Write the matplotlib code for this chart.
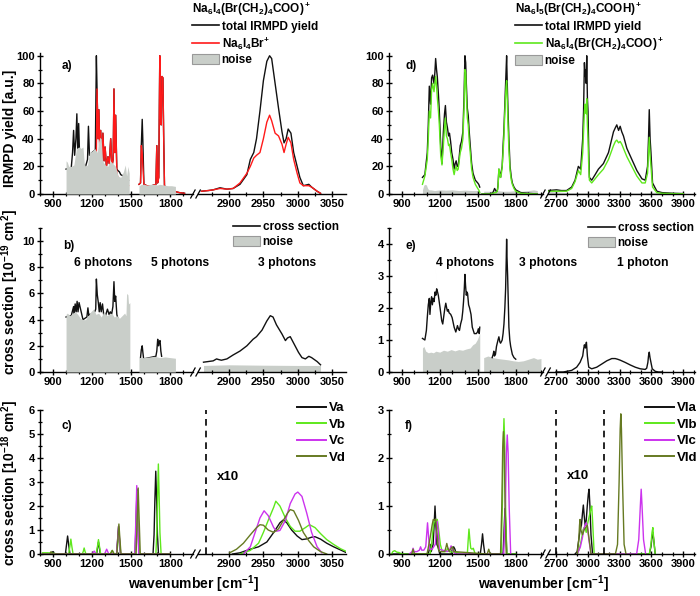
import matplotlib
matplotlib.use('Agg')
import matplotlib.pyplot as plt
from matplotlib.lines import Line2D
from matplotlib.patches import Patch
from matplotlib.ticker import MultipleLocator

W, H = 700, 596

# ---------------- panel a : Na6I4(Br(CH2)4COO)+ ----------------
a_noise1_x = [1000, 1010, 1020, 1040, 1060, 1080, 1100, 1115, 1130, 1140, 1150, 1165, 1180, 1200, 1220, 1240,
              1250, 1260, 1270, 1280, 1300, 1320, 1340, 1360, 1380, 1400, 1420, 1440, 1455, 1465, 1475, 1485]
a_noise1_y = [24, 23, 20, 20, 21, 33, 34, 33, 34, 22, 20, 21, 30, 31, 33, 30,
              38, 41, 40, 24, 21, 20, 24, 22, 20, 13, 12, 16, 21, 13, 20, 15]
a_noise2_x = [1560, 1580, 1600, 1620, 1650, 1680, 1700, 1720, 1750, 1780, 1810, 1840]
a_noise2_y = [6, 7, 7, 6.5, 7, 7, 6.5, 7, 6.5, 6, 6, 5.5]

a_tot1_x = [1000, 1040, 1050, 1058, 1066, 1076, 1083, 1090, 1097, 1104, 1120, 1150, 1165, 1172, 1180, 1200,
            1225, 1233, 1238, 1246, 1252, 1260, 1266, 1275, 1283, 1292, 1300, 1310, 1322, 1332, 1343, 1352,
            1362, 1368, 1374, 1381, 1390, 1398, 1410, 1420, 1440, 1460, 1480]
a_tot1_y = [18, 19, 30, 46, 28, 40, 58, 30, 51, 28, 22, 20, 25, 49, 28, 30,
            32, 100, 76, 40, 61, 28, 46, 22, 44, 24, 34, 20, 27, 22, 40, 20,
            25, 76, 30, 57, 18, 17, 16, 14, 13, 12, 10]
a_br1_x = [1225, 1233, 1238, 1246, 1252, 1260, 1266, 1275, 1283, 1292, 1300, 1310, 1322, 1332, 1343, 1352,
           1362, 1368, 1374, 1381, 1390, 1398, 1410, 1440, 1480]
a_br1_y = [18, 30, 76, 40, 61, 28, 46, 22, 44, 24, 34, 20, 27, 22, 40, 20,
           25, 76, 30, 57, 15, 12, 10, 8, 6]
a_2_x = [1560, 1572, 1578, 1585, 1590, 1598, 1620, 1660, 1690, 1697, 1703, 1712, 1720, 1726, 1731, 1737,
         1744, 1750, 1756, 1780, 1830, 1870, 1910]
a_tot2_y = [7, 8, 35, 54, 38, 7, 6, 6, 7, 35, 8, 12, 100, 55, 50, 85, 84, 40, 6, 3, 2, 1, 0.5]
a_br2_y = [7, 8, 35, 30, 20, 7, 6, 6, 7, 35, 8, 12, 100, 55, 50, 85, 84, 40, 6, 3, 2, 1, 0.5]

a_r_x = [2860, 2870, 2877, 2887, 2897, 2906, 2916, 2926, 2931, 2936, 2940, 2945, 2950, 2955, 2959, 2962,
         2967, 2972, 2977, 2980, 2983, 2986, 2990, 2994, 2999, 3003, 3008, 3016, 3020, 3028, 3033]
a_tot_r = [2, 2.5, 3, 4.5, 3.5, 4, 7, 14, 25, 30, 40, 60, 82, 96, 100, 98,
           80, 62, 45, 37, 40, 47, 44, 30, 20, 12, 6, 7, 5, 2, 0.5]
a_br_r = [2, 2.5, 3, 4, 3.5, 4, 8, 15, 20, 26, 28, 30, 40, 52, 57, 53,
          44, 42, 36, 30, 36, 41, 37, 25, 15, 8, 6, 6, 5, 2, 0.5]

# ---------------- panel b : cross section ----------------
b_noise1_x = [1000, 1010, 1030, 1050, 1070, 1090, 1110, 1130, 1150, 1170, 1190, 1210, 1230, 1250, 1270,
              1290, 1310, 1330, 1350, 1370, 1390, 1410, 1430, 1450, 1460, 1465, 1475, 1480, 1490]
b_noise1_y = [4.4, 4.5, 4.3, 4.5, 4.6, 4.4, 4.1, 4.0, 4.0, 4.3, 4.6, 4.8, 4.4, 4.5, 4.2,
              4.6, 4.3, 4.4, 4.5, 4.2, 4.3, 4.1, 4.3, 4.5, 4.3, 6.0, 5.9, 5.2, 5.3]
b_sec1_x = [1000, 1040, 1058, 1063, 1070, 1078, 1085, 1092, 1100, 1130, 1160, 1168, 1175, 1180, 1200, 1220,
            1228, 1233, 1240, 1248, 1255, 1262, 1270, 1280, 1290, 1300, 1318, 1330, 1340, 1350, 1360,
            1368, 1374, 1381, 1390, 1400, 1420, 1440, 1460, 1480]
b_sec1_y = [4.2, 4.3, 5.0, 4.4, 5.2, 4.6, 5.4, 4.6, 5.3, 4.0, 4.2, 4.9, 4.3, 4.4, 4.4, 4.6,
            4.8, 7.1, 5.9, 5.3, 4.6, 5.3, 4.6, 5.2, 4.3, 4.2, 4.8, 4.4, 4.6, 4.4, 5.0,
            6.9, 5.4, 5.8, 4.4, 4.0, 3.8, 3.8, 3.7, 3.6]
b_noise2_x = [1560, 1600, 1640, 1680, 1720, 1760, 1800, 1840]
b_noise2_y = [1.1, 1.1, 1.15, 1.2, 1.1, 1.15, 1.1, 1.05]
b_sec2_x = [1572, 1578, 1585, 1590, 1596, 1690, 1697, 1704, 1710, 1716, 1722, 1728, 1734]
b_sec2_y = [1.1, 1.7, 2.0, 1.5, 1.0, 1.2, 1.6, 2.5, 2.0, 2.3, 2.4, 1.6, 1.2]
b_r_x = [2863, 2870, 2877, 2882, 2885, 2889, 2897, 2906, 2916, 2926, 2935, 2940, 2948, 2955, 2960,
         2964, 2969, 2977, 2982, 2985, 2989, 2994, 3001, 3006, 3011, 3016, 3020, 3028, 3033]
b_sec_r = [0.75, 0.8, 0.85, 1.0, 0.95, 0.9, 1.0, 1.3, 1.6, 2.0, 2.5, 2.7, 3.2, 3.9, 4.3,
           4.2, 3.6, 2.9, 2.4, 2.6, 2.7, 2.2, 1.5, 1.1, 1.0, 1.2, 1.1, 0.8, 0.55]
b_noise_r_x = [2863, 2900, 2950, 3000, 3033]
b_noise_r_y = [0.5, 0.55, 0.52, 0.5, 0.5]

# ---------------- panel c : computed spectra V ----------------
Va_l_x = [820, 880, 890, 900, 910, 995, 1004, 1012, 1020, 1030, 1235, 1243, 1249, 1255, 1263, 1388, 1396,
          1403, 1410, 1418, 1530, 1538, 1545, 1552, 1560, 1668, 1676, 1682, 1689, 1696, 1702, 1710, 1800]
Va_l_y = [0, 0, 0.05, 0.1, 0, 0, 0.4, 0.75, 0.4, 0, 0, 0.3, 0.5, 0.3, 0, 0, 0.6,
          1.15, 0.6, 0, 0, 1.4, 2.7, 1.4, 0, 0, 0.8, 2.2, 3.45, 2.2, 0.8, 0, 0]
Vb_l_x = [820, 860, 900, 940, 1020, 1029, 1037, 1045, 1054, 1125, 1133, 1139, 1145, 1153, 1232, 1241, 1249,
          1257, 1266, 1340, 1348, 1355, 1362, 1370, 1390, 1398, 1405, 1412, 1420, 1533, 1541, 1548, 1555,
          1563, 1690, 1697, 1703, 1709, 1715, 1721, 1730, 1800]
Vb_l_y = [0.05, 0.05, 0.03, 0, 0, 0.3, 0.62, 0.3, 0, 0, 0.12, 0.25, 0.12, 0, 0, 0.3, 0.6,
          0.3, 0, 0, 0.08, 0.15, 0.08, 0, 0, 0.5, 1.0, 0.5, 0, 0, 1.3, 2.6, 1.3,
          0, 0, 0.9, 2.4, 3.75, 2.4, 0.9, 0, 0]
Vc_l_x = [820, 1200, 1208, 1216, 1224, 1232, 1296, 1304, 1312, 1320, 1328, 1388, 1396, 1404, 1412, 1420,
          1528, 1536, 1543, 1550, 1558, 1800]
Vc_l_y = [0, 0, 0.06, 0.12, 0.06, 0, 0, 0.1, 0.2, 0.1, 0, 0, 0.55, 1.15, 0.55, 0,
          0, 1.4, 2.85, 1.4, 0, 0]
Vd_l_x = [820, 875, 885, 895, 1340, 1355, 1368, 1390, 1398, 1406, 1414, 1422, 1538, 1546, 1554, 1562, 1570,
          1800]
Vd_l_y = [0, 0, 0.1, 0, 0, 0.15, 0, 0, 0.6, 1.25, 0.6, 0, 0, 1.35, 2.75, 1.35, 0, 0]

Va_r_x = [2905, 2916, 2931, 2943, 2955, 2965, 2974, 2979, 2984, 2991, 2999, 3006, 3013, 3020, 3025, 3033,
          3042, 3052, 3062, 3071]
Va_r_y = [0, 0.05, 0.2, 0.3, 0.5, 0.9, 1.3, 1.42, 1.3, 1.0, 0.75, 0.6, 0.63, 0.7, 0.72, 0.62,
          0.45, 0.3, 0.17, 0.05]
Vb_r_x = [2916, 2931, 2943, 2950, 2957, 2965, 2968, 2974, 2982, 2989, 2996, 3003, 3011, 3017, 3025, 3033,
          3042, 3052, 3062, 3071]
Vb_r_y = [0, 0.15, 0.45, 0.9, 1.4, 1.95, 2.2, 2.0, 1.5, 1.15, 0.95, 0.95, 1.1, 1.22, 1.1, 0.85,
          0.6, 0.4, 0.22, 0.1]
Vc_r_x = [2921, 2931, 2938, 2945, 2951, 2957, 2965, 2969, 2974, 2982, 2989, 2996, 3000, 3006, 3013, 3020,
          3028, 3035]
Vc_r_y = [0, 0.3, 0.9, 1.5, 1.8, 1.6, 1.1, 0.95, 0.98, 1.4, 2.1, 2.5, 2.58, 2.4, 1.7, 0.9, 0.3, 0.05]
Vd_r_x = [2901, 2911, 2921, 2931, 2940, 2945, 2950, 2957, 2965, 2972, 2979, 2985, 2989, 2994, 3001, 3008,
          3016, 3023, 3033, 3042]
Vd_r_y = [0.05, 0.2, 0.45, 0.8, 1.1, 1.22, 1.2, 1.0, 0.9, 1.05, 1.4, 1.7, 1.85, 1.8, 1.4, 0.9,
          0.55, 0.3, 0.1, 0]
c_scale_mark = 2866

# ---------------- panel d : Na6I5(Br(CH2)4COOH)+ ----------------
d_1_x = [1064, 1083, 1102, 1110, 1118, 1128, 1136, 1144, 1155, 1162, 1168, 1175, 1181, 1190, 1197, 1208,
         1218, 1229, 1238, 1245, 1253, 1261, 1270, 1277, 1286, 1295, 1305, 1314, 1322, 1330, 1338, 1346,
         1355, 1362, 1372, 1383, 1392, 1399, 1405, 1410, 1418, 1425, 1433, 1441, 1452, 1463, 1481, 1500,
         1508, 1516]
d_tot1_y = [12, 14, 30, 50, 78, 65, 84, 86, 80, 88, 98, 90, 85, 72, 60, 35,
            22, 45, 58, 64, 52, 48, 42, 44, 38, 30, 25, 18, 22, 24, 20, 20,
            28, 35, 38, 45, 70, 100, 95, 80, 62, 57, 45, 35, 22, 15, 10, 8,
            7, 5]
d_frag1_y = [7, 13, 25, 40, 60, 55, 75, 80, 74, 80, 85, 78, 70, 60, 50, 28,
             21, 35, 48, 55, 42, 40, 35, 36, 30, 25, 18, 14, 18, 20, 17, 18,
             25, 30, 33, 40, 62, 90, 88, 72, 55, 50, 38, 30, 18, 12, 7, 4,
             3, 1]
d_2_x = [1534, 1600, 1620, 1633, 1645, 1654, 1660, 1667, 1674, 1680, 1687, 1693, 1700, 1706, 1712, 1718,
         1724, 1728, 1733, 1739, 1746, 1755, 1765, 1773, 1786, 1800, 1839, 1900, 1970]
d_tot2_y = [0, 0, 1, 4, 2, 2, 6, 18, 15, 12, 17, 20, 35, 45, 60, 75,
            90, 100, 80, 60, 40, 20, 12, 8, 5, 3, 1, 0.5, 0]
d_frag2_y = [0, 0, 0.5, 1, 1, 2, 5, 18, 14, 12, 15, 20, 30, 40, 55, 68,
             78, 82, 70, 50, 32, 17, 10, 7, 4, 2, 0.5, 0.2, 0]
d_noise1_x = [1064, 1075, 1085, 1095, 1105, 1115, 1130, 1160, 1200, 1250, 1300, 1350, 1400, 1450, 1500, 1516]
d_noise1_y = [3, 6.5, 7, 6.5, 4, 3, 3, 2.5, 3, 2.8, 3, 2.5, 2.8, 2.5, 2.5, 2.5]
d_noise2_x = [1547, 1600, 1650, 1700, 1750, 1800, 1850, 1900, 1940, 1970]
d_noise2_y = [2, 2, 2.5, 2, 2, 2.5, 2, 2.5, 3, 2.5]
d_r_x = [2628, 2706, 2750, 2800, 2848, 2880, 2911, 2933, 2952, 2960, 2968, 2975, 2980, 2985, 2990, 2996,
         3002, 3008, 3015, 3037, 3069, 3100, 3147, 3195, 3242, 3260, 3273, 3290, 3305, 3320, 3336, 3368,
         3415, 3462, 3510, 3541, 3563, 3572, 3579, 3587, 3595, 3610, 3651, 3699, 3800, 3900]
d_tot_r = [2.5, 3, 2.5, 2.5, 5, 10, 20, 18, 40, 60, 95, 85, 90, 80, 100, 70,
           60, 35, 12, 10, 14, 18, 22, 30, 45, 48, 50, 46, 49, 45, 42, 33,
           25, 17, 11, 10, 20, 40, 61, 40, 30, 8, 2, 1, 0.5, 0.3]
d_frag_r = [2, 2, 2, 2, 4, 9, 17, 14, 30, 45, 60, 65, 62, 58, 69, 50,
            40, 22, 10, 8, 11, 14, 18, 25, 35, 38, 39, 37, 38, 36, 33, 27,
            20, 13, 8, 8, 15, 30, 41, 28, 20, 5, 1, 0.5, 0.3, 0.2]
d_noise_r_x = [2628, 2700, 2800, 2900, 3000, 3100, 3300, 3500, 3700, 3900]
d_noise_r_y = [2, 1.5, 1, 1, 1, 1, 0.8, 0.8, 1.5, 1]

# ---------------- panel e : cross section ----------------
e_noise1_x = [1064, 1075, 1090, 1110, 1130, 1150, 1170, 1200, 1230, 1260, 1290, 1320, 1350, 1380, 1410,
              1440, 1460, 1480, 1495, 1505, 1516]
e_noise1_y = [0.75, 0.8, 0.65, 0.6, 0.62, 0.6, 0.65, 0.62, 0.68, 0.65, 0.7, 0.66, 0.7, 0.68, 0.72,
              0.75, 0.85, 0.9, 1.0, 1.1, 1.2]
e_noise2_x = [1547, 1580, 1620, 1660, 1700, 1740, 1780, 1820, 1860, 1900, 1940, 1970, 1999]
e_noise2_y = [0.45, 0.5, 0.45, 0.42, 0.4, 0.38, 0.35, 0.33, 0.35, 0.4, 0.45, 0.4, 0.42]
e_sec1_x = [1064, 1083, 1095, 1102, 1110, 1118, 1123, 1130, 1136, 1142, 1149, 1156, 1163, 1170, 1176,
            1183, 1189, 1196, 1203, 1216, 1224, 1234, 1241, 1248, 1255, 1261, 1268, 1274, 1287, 1298,
            1306, 1314, 1327, 1334, 1340, 1348, 1356, 1365, 1375, 1382, 1388, 1394, 1399, 1404, 1410,
            1415, 1420, 1428, 1436, 1447, 1457, 1473, 1489, 1498, 1505, 1512, 1516]
e_sec1_y = [1.05, 1.0, 1.3, 1.7, 2.1, 2.3, 1.8, 2.2, 2.35, 2.1, 2.3, 2.2, 2.5, 2.4, 2.6,
            2.5, 2.4, 2.2, 2.0, 1.6, 1.5, 1.8, 2.0, 2.15, 2.0, 1.9, 1.95, 1.85, 1.8, 1.7,
            1.55, 1.4, 1.25, 1.35, 1.45, 1.35, 1.3, 1.5, 1.65, 1.9, 2.2, 2.6, 3.05, 2.7, 2.4,
            2.5, 2.45, 2.1, 2.0, 1.8, 1.4, 1.2, 1.2, 1.25, 1.35, 1.2, 1.4]
e_sec2_x = [1614, 1622, 1627, 1632, 1640, 1648, 1654, 1660, 1667, 1674, 1680, 1687, 1693, 1700, 1707,
            1714, 1720, 1725, 1728, 1731, 1736, 1741, 1746, 1753, 1760, 1773, 1786, 1800]
e_sec2_y = [0.45, 0.55, 0.65, 0.5, 0.55, 0.8, 0.9, 1.0, 1.1, 0.95, 0.9, 0.95, 1.0, 1.2, 1.5,
            2.0, 2.6, 3.5, 4.15, 3.6, 3.0, 2.2, 1.4, 1.0, 0.8, 0.55, 0.45, 0.4]
e_r_x = [2700, 2769, 2848, 2895, 2927, 2952, 2960, 2968, 2972, 2977, 2982, 2987, 2992, 2996, 3003, 3009,
         3037, 3084, 3132, 3179, 3226, 3258, 3280, 3305, 3352, 3400, 3447, 3494, 3541, 3555, 3566, 3572,
         3579, 3586, 3592, 3607, 3636, 3667, 3700]
e_sec_r = [0, 0, 0.05, 0.15, 0.3, 0.5, 0.7, 0.85, 0.8, 0.75, 0.85, 0.93, 0.7, 0.5, 0.3, 0.15,
           0.1, 0.15, 0.25, 0.35, 0.42, 0.42, 0.4, 0.37, 0.3, 0.22, 0.15, 0.1, 0.08, 0.12, 0.3, 0.5,
           0.62, 0.45, 0.35, 0.1, 0.02, 0, 0]

# ---------------- panel f : computed spectra VI ----------------
VIa_l_x = [820, 1110, 1118, 1125, 1133, 1148, 1156, 1163, 1170, 1178, 1190, 1200, 1290, 1300, 1310, 1320,
           1330, 1520, 1530, 1538, 1546, 1556, 1700, 1708, 1715, 1722, 1730, 1800]
VIa_l_y = [0, 0, 0.1, 0.2, 0.05, 0.2, 0.6, 1.0, 0.6, 0.2, 0.12, 0, 0, 0.1, 0.15, 0.1,
           0, 0, 0.2, 0.42, 0.2, 0, 0, 0.5, 0.95, 0.5, 0, 0]
VIb_l_x = [820, 830, 845, 860, 880, 900, 1125, 1140, 1150, 1160, 1172, 1181, 1190, 1205, 1220, 1250, 1262,
           1275, 1418, 1425, 1431, 1438, 1445, 1455, 1465, 1480, 1685, 1695, 1701, 1707, 1713, 1719, 1729,
           1800]
VIb_l_y = [0, 0.05, 0.07, 0.04, 0.03, 0, 0, 0.3, 0.6, 0.7, 0.68, 0.72, 0.55, 0.2, 0.05, 0.05, 0.12,
           0.05, 0, 0.3, 0.52, 0.3, 0.12, 0.1, 0.12, 0, 0, 1.1, 2.3, 2.82, 2.3, 1.1, 0,
           0]
VIc_l_x = [960, 982, 990, 998, 1020, 1040, 1049, 1058, 1075, 1090, 1097, 1104, 1111, 1120, 1140, 1165, 1174,
           1181, 1188, 1197, 1260, 1280, 1290, 1300, 1320, 1705, 1718, 1726, 1733, 1740, 1748, 1760]
VIc_l_y = [0, 0.05, 0.12, 0.05, 0.05, 0.08, 0.15, 0.08, 0.08, 0.15, 0.4, 0.65, 0.4, 0.1, 0.1, 0.2, 0.5,
           0.68, 0.5, 0.1, 0.05, 0.1, 0.17, 0.1, 0, 0, 1.0, 2.1, 2.48, 2.1, 1.0, 0]
VId_l_x = [980, 990, 1000, 1100, 1115, 1125, 1140, 1149, 1158, 1168, 1180, 1190, 1200, 1240, 1250, 1256,
           1262, 1275, 1290, 1300, 1312, 1575, 1587, 1598, 1680, 1690, 1697, 1703, 1709, 1716, 1725]
VId_l_y = [0, 0.1, 0, 0, 0.2, 0.35, 0.6, 0.72, 0.7, 0.73, 0.4, 0.1, 0.05, 0.05, 0.15, 0.22,
           0.15, 0.05, 0.12, 0.15, 0.05, 0, 0.1, 0, 0, 1.0, 2.2, 2.55, 2.2, 1.0, 0]

VIa_r_x = [2880, 2900, 2915, 2927, 2940, 2950, 2958, 2966, 2975, 2985, 2995, 3005, 3012, 3020, 3030, 3045,
           3580, 3595, 3605, 3613, 3621, 3635]
VIa_r_y = [0, 0.05, 0.3, 0.5, 0.6, 0.85, 1.02, 0.8, 0.6, 0.7, 1.0, 1.25, 1.35, 1.0, 0.4, 0,
           0, 0.15, 0.35, 0.45, 0.3, 0]
VIb_r_x = [2900, 2920, 2940, 2955, 2965, 2974, 2985, 2995, 3005, 3020, 3030, 3037, 3045, 3060,
           3580, 3595, 3605, 3613, 3621, 3635]
VIb_r_y = [0, 0.1, 0.3, 0.5, 0.55, 0.55, 0.45, 0.6, 0.7, 0.85, 0.95, 1.0, 0.7, 0,
           0, 0.2, 0.45, 0.55, 0.3, 0]
VIc_r_x = [2900, 2930, 2950, 2960, 2974, 2985, 2995, 3010, 3030, 3460, 3480, 3495, 3503, 3511, 3525, 3545]
VIc_r_y = [0, 0.15, 0.35, 0.5, 0.6, 0.65, 0.6, 0.3, 0, 0, 0.3, 1.0, 1.35, 1.0, 0.3, 0]
VId_r_x = [2900, 2915, 2922, 2927, 2935, 2950, 2965, 2980, 2995, 3010, 3030, 3260, 3280, 3295, 3305, 3311,
           3317, 3327, 3342, 3360]
VId_r_y = [0, 0.3, 0.6, 0.72, 0.5, 0.4, 0.5, 0.55, 0.6, 0.35, 0, 0, 0.2, 1.5, 2.6, 2.92,
           2.6, 1.5, 0.2, 0]
f_scale_marks = [2697, 3157]

# ---------------- style ----------------
BLACK = '#111111'
RED = '#ff1a1a'
GREEN = '#5ee81c'
MAGENTA = '#cc33ee'
OLIVE = '#667a22'
NOISE = '#c9cec9'
LW = 1.0

plt.rcParams.update({
    'font.family': 'Liberation Sans',
    'font.weight': 'bold',
    'axes.labelweight': 'bold',
    'mathtext.fontset': 'custom',
    'mathtext.rm': 'Liberation Sans:bold',
    'mathtext.it': 'Liberation Sans:bold',
    'mathtext.bf': 'Liberation Sans:bold',
    'mathtext.default': 'rm',
    'axes.linewidth': 1.0,
    'xtick.direction': 'inout',
    'ytick.direction': 'inout',
    'xtick.major.size': 4.5,
    'ytick.major.size': 4.5,
    'xtick.minor.size': 2.6,
    'ytick.minor.size': 2.6,
    'xtick.major.width': 1.0,
    'ytick.major.width': 1.0,
    'xtick.minor.width': 0.9,
    'ytick.minor.width': 0.9,
    'xtick.labelsize': 8,
    'ytick.labelsize': 8,
    'xtick.major.pad': 1.5,
    'ytick.major.pad': 1.5,
})

fig = plt.figure(figsize=(W / 100, H / 100), dpi=100)


def box(x0, x1, y0, y1):
    return [x0 / W, 1 - y1 / H, (x1 - x0) / W, (y1 - y0) / H]


def broken_axes(cols, xlims, rmaj, rmin, row, ylim, ymaj, ymin):
    (l0, l1), (r0, r1) = cols
    y0, y1 = row
    ax_l = fig.add_axes(box(l0, l1, y0, y1))
    ax_r = fig.add_axes(box(r0, r1, y0, y1))
    for ax in (ax_l, ax_r):
        ax.spines[['top', 'right']].set_visible(False)
        ax.set_ylim(*ylim)
        ax.patch.set_visible(False)
    ax_r.spines['left'].set_visible(False)
    ax_r.tick_params(axis='y', which='both', left=False, labelleft=False)
    ax_l.set_xlim(*xlims[0])
    ax_r.set_xlim(*xlims[1])
    ax_l.xaxis.set_major_locator(MultipleLocator(300))
    ax_l.xaxis.set_minor_locator(MultipleLocator(100))
    ax_r.xaxis.set_major_locator(MultipleLocator(rmaj))
    ax_r.xaxis.set_minor_locator(MultipleLocator(rmin))
    ax_l.yaxis.set_major_locator(MultipleLocator(ymaj))
    ax_l.yaxis.set_minor_locator(MultipleLocator(ymin))
    # "//" axis break
    xc = (l1 + r0) / 2
    for dx in (-2.6, 2.6):
        fig.add_artist(Line2D([(xc + dx - 2.2) / W, (xc + dx + 2.2) / W],
                              [1 - (y1 + 4) / H, 1 - (y1 - 4) / H], color='k', lw=0.9))
    return ax_l, ax_r


def ftext(x, y, s, **kw):
    fig.text(x / W, 1 - y / H, s, **kw)


def legend(ax, handles, labels, x, y, **kw):
    opts = dict(loc='upper left', bbox_to_anchor=(x / W, 1 - y / H), bbox_transform=fig.transFigure,
                frameon=False, borderpad=0, borderaxespad=0, handletextpad=0.2)
    opts.update(kw)
    return ax.legend(handles, labels, **opts)


LEFT = ((40, 193), (198, 346))
RIGHT = ((389, 543), (548, 695))
ROW1, ROW2, ROW3 = (53, 194), (228, 372), (410, 554)
XL_LEFT = ((800, 1975), (2855, 3070))
XL_RIGHT = ((800, 2015), (2625, 4010))


def noise_patch():
    return Patch(facecolor=NOISE, edgecolor='#999999', lw=0.8)


# ---- panel a ----
al, ar = broken_axes(LEFT, XL_LEFT, 50, 25, ROW1, (0, 102), 20, 10)
al.plot(a_tot1_x, a_tot1_y, color=BLACK, lw=LW, zorder=2)
al.plot(a_br1_x, a_br1_y, color=RED, lw=LW, zorder=2.1)
al.plot(a_2_x, a_tot2_y, color=BLACK, lw=LW, zorder=2)
al.plot(a_2_x, a_br2_y, color=RED, lw=LW, zorder=2.1)
al.fill_between(a_noise1_x, a_noise1_y, color=NOISE, lw=0, zorder=3)
al.fill_between(a_noise2_x, a_noise2_y, color=NOISE, lw=0, zorder=3)
ar.plot(a_r_x, a_tot_r, color=BLACK, lw=LW)
ar.plot(a_r_x, a_br_r, color=RED, lw=LW)
legend(ar, [Line2D([], [], color=BLACK, lw=1.2), Line2D([], [], color=RED, lw=1.2), noise_patch()],
       ['total IRMPD yield', r'Na$_6$I$_4$Br$^{{+}}$', 'noise'], 192, 1,
       title=r'Na$_6$I$_4$(Br(CH$_2$)$_4$COO)$^+$', alignment='left',
       handlelength=2.3, handleheight=1.0, labelspacing=0.18, fontsize=8.5, title_fontsize=8.5)
al.text(0.14, 0.95, 'a)', transform=al.transAxes, fontsize=8.5, va='top')

# ---- panel b ----
bl, br = broken_axes(LEFT, XL_LEFT, 50, 25, ROW2, (0, 11), 2, 1)
bl.plot(b_sec1_x, b_sec1_y, color=BLACK, lw=LW, zorder=2)
bl.plot(b_sec2_x, b_sec2_y, color=BLACK, lw=LW, zorder=2)
bl.fill_between(b_noise1_x, b_noise1_y, color=NOISE, lw=0, zorder=3)
bl.fill_between(b_noise2_x, b_noise2_y, color=NOISE, lw=0, zorder=3)
br.fill_between(b_noise_r_x, b_noise_r_y, color=NOISE, lw=0, zorder=1)
br.plot(b_r_x, b_sec_r, color=BLACK, lw=LW, zorder=2)
legend(br, [Line2D([], [], color=BLACK, lw=1.2), noise_patch()], ['cross section', 'noise'], 233, 221,
       handlelength=2.3, handleheight=1.0, labelspacing=0.2, fontsize=8.5)
bl.text(0.15, 0.92, 'b)', transform=bl.transAxes, fontsize=8.5, va='top')
ftext(103, 263, '6 photons', fontsize=8.7, ha='center', va='center')
ftext(180, 263, '5 photons', fontsize=8.7, ha='center', va='center')
ftext(287, 263, '3 photons', fontsize=8.7, ha='center', va='center')

# ---- panel c ----
cl, cr = broken_axes(LEFT, XL_LEFT, 50, 25, ROW3, (0, 6), 1, 0.5)
for xs, ys, c in ((Va_l_x, Va_l_y, BLACK), (Vb_l_x, Vb_l_y, GREEN),
                  (Vc_l_x, Vc_l_y, MAGENTA), (Vd_l_x, Vd_l_y, OLIVE)):
    cl.plot(xs, ys, color=c, lw=LW)
for xs, ys, c in ((Va_r_x, Va_r_y, BLACK), (Vb_r_x, Vb_r_y, GREEN),
                  (Vc_r_x, Vc_r_y, MAGENTA), (Vd_r_x, Vd_r_y, OLIVE)):
    cr.plot(xs, ys, color=c, lw=LW)
cr.axvline(c_scale_mark, color='k', lw=1.2, ls=(0, (4, 3)))
cr.text(2899, 3.2, 'x10', fontsize=9.5, ha='center', va='center')
legend(cr, [Line2D([], [], color=c, lw=1.4) for c in (BLACK, GREEN, MAGENTA, OLIVE)],
       ['Va', 'Vb', 'Vc', 'Vd'], 297, 402, handlelength=2.2, labelspacing=0.32, fontsize=9.5)
cl.text(0.14, 0.93, 'c)', transform=cl.transAxes, fontsize=8.5, va='top')

# ---- panel d ----
dl, dr = broken_axes(RIGHT, XL_RIGHT, 300, 100, ROW1, (0, 102), 20, 10)
dl.fill_between(d_noise1_x, d_noise1_y, color=NOISE, lw=0, zorder=1)
dl.fill_between(d_noise2_x, d_noise2_y, color=NOISE, lw=0, zorder=1)
dl.plot(d_1_x, d_tot1_y, color=BLACK, lw=LW)
dl.plot(d_1_x, d_frag1_y, color=GREEN, lw=LW)
dl.plot(d_2_x, d_tot2_y, color=BLACK, lw=LW)
dl.plot(d_2_x, d_frag2_y, color=GREEN, lw=LW)
dr.fill_between(d_noise_r_x, d_noise_r_y, color=NOISE, lw=0, zorder=1)
dr.plot(d_r_x, d_tot_r, color=BLACK, lw=LW)
dr.plot(d_r_x, d_frag_r, color=GREEN, lw=LW)
legend(dr, [Line2D([], [], color=BLACK, lw=1.2), Line2D([], [], color=GREEN, lw=1.2), noise_patch()],
       ['total IRMPD yield', r'Na$_6$I$_4$(Br(CH$_2$)$_4$COO)$^+$', 'noise'], 515, 1,
       title=r'Na$_6$I$_5$(Br(CH$_2$)$_4$COOH)$^+$', alignment='left',
       handlelength=2.3, handleheight=1.0, labelspacing=0.18, fontsize=8.5, title_fontsize=8.5)
dl.text(0.105, 0.95, 'd)', transform=dl.transAxes, fontsize=8.5, va='top')

# ---- panel e ----
el, er = broken_axes(RIGHT, XL_RIGHT, 300, 100, ROW2, (0, 4.5), 1, 0.5)
el.fill_between(e_noise1_x, e_noise1_y, color=NOISE, lw=0, zorder=1)
el.fill_between(e_noise2_x, e_noise2_y, color=NOISE, lw=0, zorder=1)
el.plot(e_sec1_x, e_sec1_y, color=BLACK, lw=LW)
el.plot(e_sec2_x, e_sec2_y, color=BLACK, lw=LW)
er.plot(e_r_x, e_sec_r, color=BLACK, lw=LW)
legend(er, [Line2D([], [], color=BLACK, lw=1.2), noise_patch()], ['cross section', 'noise'], 588, 222,
       handlelength=2.3, handleheight=1.0, labelspacing=0.2, fontsize=8.5)
el.text(0.105, 0.92, 'e)', transform=el.transAxes, fontsize=8.5, va='top')
ftext(465, 263, '4 photons', fontsize=8.7, ha='center', va='center')
ftext(548, 263, '3 photons', fontsize=8.7, ha='center', va='center')
ftext(643, 263, '1 photon', fontsize=8.7, ha='center', va='center')

# ---- panel f ----
fl, fr = broken_axes(RIGHT, XL_RIGHT, 300, 100, ROW3, (0, 3), 1, 0.5)
for xs, ys, c in ((VIa_l_x, VIa_l_y, BLACK), (VIb_l_x, VIb_l_y, GREEN),
                  (VIc_l_x, VIc_l_y, MAGENTA), (VId_l_x, VId_l_y, OLIVE)):
    fl.plot(xs, ys, color=c, lw=LW)
for xs, ys, c in ((VIa_r_x, VIa_r_y, BLACK), (VIb_r_x, VIb_r_y, GREEN),
                  (VIc_r_x, VIc_r_y, MAGENTA), (VId_r_x, VId_r_y, OLIVE)):
    fr.plot(xs, ys, color=c, lw=LW)
for xm in f_scale_marks:
    fr.axvline(xm, color='k', lw=1.2, ls=(0, (4, 3)))
fr.text(2908, 1.62, 'x10', fontsize=9.5, ha='center', va='center')
legend(fr, [Line2D([], [], color=c, lw=1.4) for c in (BLACK, GREEN, MAGENTA, OLIVE)],
       ['VIa', 'VIb', 'VIc', 'VId'], 645, 402, handlelength=2.2, labelspacing=0.32, fontsize=9.5)
fl.text(0.105, 0.93, 'f)', transform=fl.transAxes, fontsize=8.5, va='top')

# ---- axis titles ----
ftext(10, 128, 'IRMPD yield [a.u.]', fontsize=10, rotation=90, ha='center', va='center')
ftext(10, 292, r'cross section [10$^{-19}$ cm$^2$]', fontsize=10, rotation=90, ha='center', va='center')
ftext(10, 483, r'cross section [10$^{-18}$ cm$^2$]', fontsize=10, rotation=90, ha='center', va='center')
ftext(193, 584, r'wavenumber [cm$^{-1}$]', fontsize=10, ha='center', va='center')
ftext(543, 584, r'wavenumber [cm$^{-1}$]', fontsize=10, ha='center', va='center')

fig.savefig('out.png', dpi=100)
